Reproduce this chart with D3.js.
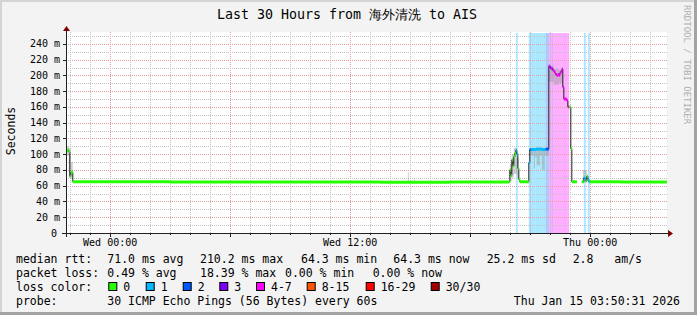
<!DOCTYPE html>
<html>
<head>
<meta charset="utf-8">
<script src="https://cdn.jsdelivr.net/npm/d3@7"></script>
<style>
  body { margin: 0; background: #fff; }
  text { font-family: "DejaVu Sans Mono", monospace; white-space: pre; }
</style>
</head>
<body>
<script>
//// Layout ////
const WIDTH = 697
const HEIGHT = 315
const LEFT = 67, RIGHT = 667, TOP = 32, BOTTOM = 233

//// Data ////
const START = "2026-01-13 21:50:31"
const END = "2026-01-15 03:50:31"

// median rtt (ms), step series: each value holds until the next time
const times = [
  "2026-01-13 21:50", "2026-01-13 21:56", "2026-01-13 21:59", "2026-01-13 22:02",
  "2026-01-13 22:08", "2026-01-14 03:00", "2026-01-14 09:00", "2026-01-14 13:30",
  "2026-01-14 17:00", "2026-01-14 19:56", "2026-01-14 19:59", "2026-01-14 20:02",
  "2026-01-14 20:05", "2026-01-14 20:08", "2026-01-14 20:11", "2026-01-14 20:14",
  "2026-01-14 20:17", "2026-01-14 20:20", "2026-01-14 20:23", "2026-01-14 20:26",
  "2026-01-14 20:29", "2026-01-14 20:56", "2026-01-14 20:59", "2026-01-14 21:02",
  "2026-01-14 21:17", "2026-01-14 21:35", "2026-01-14 21:47", "2026-01-14 21:56",
  "2026-01-14 21:59", "2026-01-14 22:02", "2026-01-14 22:05", "2026-01-14 22:08",
  "2026-01-14 22:11", "2026-01-14 22:14", "2026-01-14 22:17", "2026-01-14 22:20",
  "2026-01-14 22:23", "2026-01-14 22:26", "2026-01-14 22:29", "2026-01-14 22:32",
  "2026-01-14 22:35", "2026-01-14 22:38", "2026-01-14 22:41", "2026-01-14 22:50",
  "2026-01-14 22:53", "2026-01-14 22:57", "2026-01-14 23:02", "2026-01-14 23:05",
  "2026-01-14 23:20", "2026-01-14 23:35", "2026-01-14 23:41", "2026-01-14 23:44",
  "2026-01-14 23:47", "2026-01-14 23:50", "2026-01-14 23:53", "2026-01-14 23:56",
  "2026-01-14 23:59", "2026-01-15 01:30", "2026-01-15 03:50"
]
const median = [
  105, 103, 72, 77,
  65, 64.6, 64.8, 64.3,
  64.6, 65, 80, 73,
  93, 85, 97, 101,
  105, 100, 82, 68,
  65, 89, 106, 106,
  106.5, 106, 106.5, 212,
  210, 209, 208, 207,
  205, 203, 201, 200,
  201, 200, 203, 205,
  208, 185, 170, 168,
  160, 160, 107, 65,
  null, 65, 70, 69,
  66, 72, 68, 65,
  65, 64.6, 64.6
]
// lost pings out of 30 for each step
const lost = [
  0, 0, 0, 0,
  0, 0, 0, 0,
  0, 0, 0, 0,
  0, 0, 0, 0,
  1, 1, 0, 0,
  0, 1, 2, 1,
  1, 1, 2, 4,
  3, 5, 3, 5,
  4, 5, 6, 5,
  4, 5, 6, 5,
  4, 5, 5, 5,
  4, 0, 0, 0,
  0, 0, 1, 1,
  0, 0, 1, 1,
  0, 0, 0
]

// smoke (spread of the 30 pings), step series
const smokeTimes = [
  "2026-01-13 21:50", "2026-01-13 21:56", "2026-01-13 22:02", "2026-01-13 22:08",
  "2026-01-14 14:53", "2026-01-14 14:56", "2026-01-14 15:11", "2026-01-14 15:14",
  "2026-01-14 19:59", "2026-01-14 20:05", "2026-01-14 20:11", "2026-01-14 20:20",
  "2026-01-14 20:26", "2026-01-14 20:59", "2026-01-14 21:11", "2026-01-14 21:14",
  "2026-01-14 21:20", "2026-01-14 21:29", "2026-01-14 21:35", "2026-01-14 21:44",
  "2026-01-14 21:56", "2026-01-14 22:11", "2026-01-14 22:26", "2026-01-14 22:38",
  "2026-01-14 23:38", "2026-01-14 23:50", "2026-01-14 23:53"
]
const smokeLo = [98, 70, 68, null, 64, null, 64, null, 66, 70, 75, 70, null, 98, 82, 96, 86, 98, 80, 98, 192, 188, 190, null, 64, null, null]
const smokeHi = [110, 108, 90, null, 77, null, 69, null, 88, 100, 108, 95, null, 107, 106, 106, 106, 107, 106, 107, 213, 208, 207, null, 80, null, null]

const yTicks = [0, 20, 40, 60, 80, 100, 120, 140, 160, 180, 200, 220, 240]
const yTickLabels = ["0", "20 m", "40 m", "60 m", "80 m", "100 m", "120 m", "140 m", "160 m", "180 m", "200 m", "220 m", "240 m"]
const xLabelTimes = ["2026-01-14 00:00", "2026-01-14 12:00", "2026-01-15 00:00"]
const xLabels = ["Wed 00:00", "Wed 12:00", "Thu 00:00"]

const lossNames = ["0", "1", "2", "3", "4-7", "8-15", "16-29", "30/30"]
const lossColors = ["#26ff00", "#00b8ff", "#0059ff", "#7e00ff", "#ff00ff", "#ff5500", "#ff0000", "#a00000"]

const rttStats = ["71.0 ms avg", "210.2 ms max", "64.3 ms min", "64.3 ms now", "25.2 ms sd", "2.8", "am/s"]
const lossStats = ["0.49 % avg", "18.39 % max", "0.00 % min", "0.00 % now"]

//// Helpers ////
const parse = d3.utcParse("%Y-%m-%d %H:%M")
const parseS = d3.utcParse("%Y-%m-%d %H:%M:%S")

function bucket(n) {
  if (n <= 3) return n
  if (n <= 7) return 4
  if (n <= 15) return 5
  if (n <= 29) return 6
  return 7
}

const x = d3.scaleUtc().domain([parseS(START), parseS(END)]).range([LEFT, RIGHT])
const y = d3.scaleLinear().domain([0, 250]).range([BOTTOM, 36])

const steps = times.map((t, i) => ({ t: parse(t), v: median[i], b: bucket(lost[i]) }))
const spans = steps.slice(0, -1).map((s, i) => ({ t0: s.t, t1: steps[i + 1].t, v: s.v, b: s.b }))

// full step line (horizontal + vertical parts)
function stepPoints() {
  const pts = []
  spans.forEach(s => {
    if (s.v != null) pts.push([s.t0, s.v], [s.t1, s.v])
    else pts.push(null)
  })
  return pts
}

const line = d3.line()
  .defined(d => d != null)
  .x(d => x(d[0]))
  .y(d => y(d[1]))

//// Drawing ////
const svg = d3.select("body").append("svg")
  .attr("width", WIDTH)
  .attr("height", HEIGHT)

// dotted patterns for the grid (one pixel on, one off)
const defs = svg.append("defs")
function dots(id, color, horizontal) {
  const p = defs.append("pattern").attr("id", id)
    .attr("patternUnits", "userSpaceOnUse")
    .attr("width", horizontal ? 2 : 1).attr("height", horizontal ? 1 : 2)
  p.append("rect").attr("width", 1).attr("height", 1).attr("fill", color)
}
dots("hminor", "#c2c2c2", true)
dots("vminor", "#c2c2c2", false)
dots("hmajor", "#e49c9c", true)
dots("vmajor", "#e49c9c", false)

// background and frame
svg.append("rect").attr("width", WIDTH).attr("height", HEIGHT).attr("fill", "#f3f3f3")
svg.append("rect").attr("x", 0).attr("y", 0).attr("width", WIDTH).attr("height", 2).attr("fill", "#d4d4d4")
svg.append("rect").attr("x", 0).attr("y", 0).attr("width", 2).attr("height", HEIGHT).attr("fill", "#d4d4d4")
svg.append("rect").attr("x", WIDTH - 3).attr("y", 0).attr("width", 3).attr("height", HEIGHT).attr("fill", "#a3a3a3")
svg.append("rect").attr("x", 0).attr("y", HEIGHT - 3).attr("width", WIDTH).attr("height", 3).attr("fill", "#a3a3a3")

// canvas
svg.append("rect")
  .attr("x", LEFT).attr("y", TOP)
  .attr("width", RIGHT - LEFT).attr("height", BOTTOM - TOP)
  .attr("fill", "#ffffff")

// loss background
svg.append("g").selectAll("rect")
  .data(spans.filter(s => s.b > 0))
  .join("rect")
  .attr("x", d => x(d.t0))
  .attr("y", TOP + 1)
  .attr("width", d => x(d.t1) - x(d.t0))
  .attr("height", BOTTOM - TOP - 1)
  .attr("fill", d => lossColors[d.b])
  .attr("fill-opacity", 0.33)

// grid
const grid = svg.append("g").attr("shape-rendering", "crispEdges")
const hourTicks = x.ticks(d3.utcHour.every(1))
const major = t => t.getUTCHours() % 6 == 0
grid.selectAll("rect.vg").data(hourTicks).join("rect")
  .attr("class", "vg")
  .attr("x", d => Math.round(x(d))).attr("y", TOP)
  .attr("width", 1).attr("height", BOTTOM - TOP)
  .attr("fill", d => major(d) ? "url(#vmajor)" : "url(#vminor)")
const yGrid = d3.range(10, 251, 10)
grid.selectAll("rect.hg").data(yGrid).join("rect")
  .attr("class", "hg")
  .attr("x", LEFT).attr("y", d => Math.round(y(d)))
  .attr("width", RIGHT - LEFT).attr("height", 1)
  .attr("fill", d => d % 20 == 0 ? "url(#hmajor)" : "url(#hminor)")

// smoke
const smoke = smokeTimes.map((t, i) => ({ t: parse(t), lo: smokeLo[i], hi: smokeHi[i] }))
const smokePts = []
for (let i = 0; i < smoke.length - 1; i++) {
  if (smoke[i].lo == null) { smokePts.push(null); continue }
  smokePts.push([smoke[i].t, smoke[i].lo, smoke[i].hi], [smoke[i + 1].t, smoke[i].lo, smoke[i].hi])
}
svg.append("path")
  .attr("d", d3.area().defined(d => d != null)
    .x(d => x(d[0])).y0(d => y(d[1])).y1(d => y(d[2]))(smokePts))
  .attr("fill", "#9a9a9a")
  .attr("fill-opacity", 0.45)

// median line: thin dark step line, then loss-coloured horizontal steps
svg.append("path")
  .attr("d", line(stepPoints()))
  .attr("fill", "none")
  .attr("stroke", "#202020")
  .attr("stroke-width", 1)

svg.append("g").selectAll("line")
  .data(spans.filter(s => s.v != null))
  .join("line")
  .attr("x1", d => x(d.t0)).attr("x2", d => x(d.t1))
  .attr("y1", d => y(d.v)).attr("y2", d => y(d.v))
  .attr("stroke", d => lossColors[d.b])
  .attr("stroke-width", 3)

// axes
const axis = svg.append("g").attr("shape-rendering", "crispEdges")
axis.append("line").attr("x1", 62).attr("x2", 669).attr("y1", BOTTOM + 0.5).attr("y2", BOTTOM + 0.5).attr("stroke", "#202020")
axis.append("line").attr("x1", LEFT - 0.5).attr("x2", LEFT - 0.5).attr("y1", 237).attr("y2", 30).attr("stroke", "#202020")
axis.selectAll("line.yt").data(yTicks.slice(1)).join("line")
  .attr("class", "yt")
  .attr("x1", LEFT - 4).attr("x2", LEFT)
  .attr("y1", d => Math.round(y(d)) + 0.5).attr("y2", d => Math.round(y(d)) + 0.5)
  .attr("stroke", "#202020")
axis.selectAll("line.xt").data(hourTicks).join("line")
  .attr("class", "xt")
  .attr("x1", d => Math.round(x(d)) + 0.5).attr("x2", d => Math.round(x(d)) + 0.5)
  .attr("y1", BOTTOM).attr("y2", d => major(d) ? BOTTOM + 4 : BOTTOM + 2)
  .attr("stroke", "#202020")
svg.append("path").attr("d", "M668,230L673,233.5L668,237Z").attr("fill", "#7f0000")
svg.append("path").attr("d", "M63,31L66.5,26L70,31Z").attr("fill", "#7f0000")

// tick labels
svg.append("g").selectAll("text").data(yTicks).join("text")
  .attr("x", (d, i) => i == 0 ? 57 : 60)
  .attr("y", d => y(d) + 3.5)
  .attr("text-anchor", "end")
  .attr("font-size", 10)
  .text((d, i) => yTickLabels[i])
svg.append("g").selectAll("text").data(xLabelTimes).join("text")
  .attr("x", d => x(parse(d)))
  .attr("y", 246)
  .attr("text-anchor", "middle")
  .attr("font-size", 10)
  .text((d, i) => xLabels[i])

// title, y label, watermark
svg.append("text").attr("x", 347).attr("y", 19).attr("text-anchor", "middle")
  .attr("font-size", 13.3).text("Last 30 Hours from 海外清洗 to AIS")
svg.append("text").attr("transform", "translate(15,131) rotate(-90)")
  .attr("text-anchor", "middle").attr("font-size", 11.5).text("Seconds")
svg.append("text").attr("transform", "translate(684,5) rotate(90)")
  .attr("font-size", 9).attr("fill", "#b0b0b0").text("RRDTOOL / TOBI OETIKER")

// legend
const leg = svg.append("g").attr("font-size", 11.5)
const rttX = [107.3, 200, 301, 393.3, 486.7, 572.7, 614.3]
const lossX = [107.3, 200, 285, 372.7]
leg.append("text").attr("x", 16).attr("y", 263).text("median rtt:")
rttStats.forEach((s, i) => leg.append("text").attr("x", rttX[i]).attr("y", 263).text(s))
leg.append("text").attr("x", 16).attr("y", 277).text("packet loss:")
lossStats.forEach((s, i) => leg.append("text").attr("x", lossX[i]).attr("y", 277).text(s))
leg.append("text").attr("x", 16).attr("y", 291).text("loss color:")
const boxX = [108.3, 145.7, 182.7, 219.3, 256, 306.7, 365.7, 430.7]
lossNames.forEach((n, i) => {
  leg.append("rect").attr("x", boxX[i] + 0.5).attr("y", 282.5).attr("width", 8).attr("height", 8)
    .attr("fill", lossColors[i]).attr("stroke", "#000")
  leg.append("text").attr("x", boxX[i] + 15).attr("y", 291).text(n)
})
leg.append("text").attr("x", 16).attr("y", 305).text("probe:")
leg.append("text").attr("x", 107.3).attr("y", 305).text("30 ICMP Echo Pings (56 Bytes) every 60s")
leg.append("text").attr("x", 680).attr("y", 305).attr("text-anchor", "end").text("Thu Jan 15 03:50:31 2026")
</script>
</body>
</html>
